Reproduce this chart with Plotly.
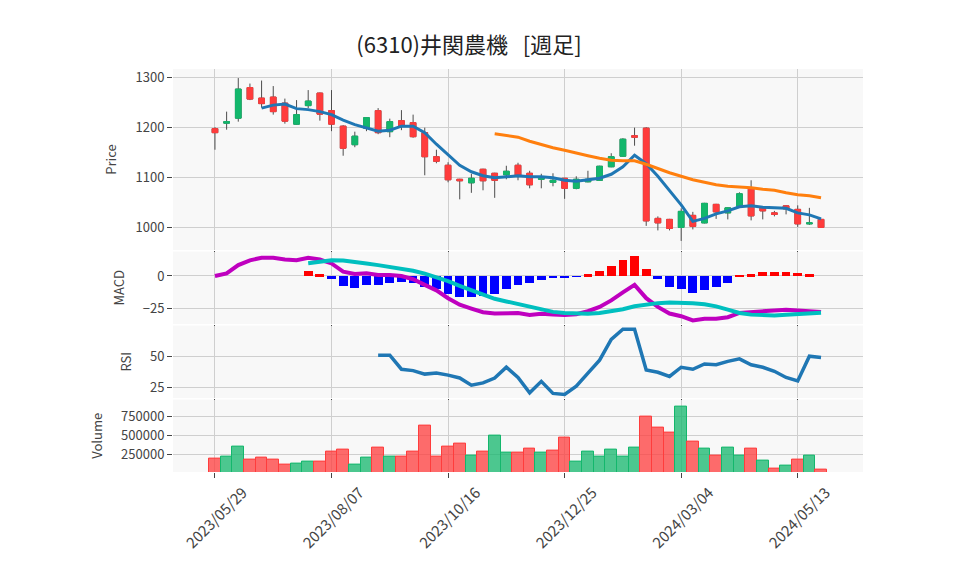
import plotly.graph_objects as go
from plotly.subplots import make_subplots

dates = [
    "2023/05/29", "2023/06/05", "2023/06/12", "2023/06/19", "2023/06/26",
    "2023/07/03", "2023/07/10", "2023/07/17", "2023/07/24", "2023/07/31",
    "2023/08/07", "2023/08/14", "2023/08/21", "2023/08/28", "2023/09/04",
    "2023/09/11", "2023/09/18", "2023/09/25", "2023/10/02", "2023/10/09",
    "2023/10/16", "2023/10/23", "2023/10/30", "2023/11/06", "2023/11/13",
    "2023/11/20", "2023/11/27", "2023/12/04", "2023/12/11", "2023/12/18",
    "2023/12/25", "2024/01/01", "2024/01/08", "2024/01/15", "2024/01/22",
    "2024/01/29", "2024/02/05", "2024/02/12", "2024/02/19", "2024/02/26",
    "2024/03/04", "2024/03/11", "2024/03/18", "2024/03/25", "2024/04/01",
    "2024/04/08", "2024/04/15", "2024/04/22", "2024/04/29", "2024/05/06",
    "2024/05/13", "2024/05/20", "2024/05/27",
]

opens = [1198, 1209, 1219, 1280, 1259, 1261, 1249, 1207, 1244, 1269,
         1234, 1203, 1166, 1199, 1234, 1192, 1214, 1210, 1190, 1142,
         1125, 1097, 1090, 1117, 1109, 1106, 1125, 1109, 1097, 1091,
         1099, 1079, 1092, 1095, 1122, 1143, 1184, 1199, 1019, 1017,
         1001, 1025, 1010, 1047, 1030, 1043, 1080, 1041, 1030, 1044,
         1037, 1008, 1017]
highs = [1201, 1232, 1299, 1288, 1294, 1283, 1258, 1255, 1275, 1270,
         1275, 1205, 1192, 1221, 1239, 1218, 1235, 1226, 1200, 1156,
         1131, 1098, 1108, 1118, 1110, 1124, 1130, 1114, 1108, 1109,
         1100, 1103, 1114, 1124, 1149, 1179, 1200, 1201, 1023, 1018,
         1039, 1032, 1050, 1048, 1041, 1071, 1095, 1042, 1034, 1045,
         1045, 1040, 1018]
lows = [1156, 1196, 1212, 1255, 1240, 1226, 1208, 1206, 1239, 1214,
        1193, 1144, 1161, 1193, 1187, 1181, 1195, 1180, 1105, 1129,
        1091, 1057, 1070, 1075, 1060, 1097, 1095, 1079, 1079, 1083,
        1058, 1077, 1091, 1094, 1121, 1142, 1164, 1004, 995, 995,
        974, 997, 1009, 1018, 1017, 1042, 1015, 1017, 1023, 1027,
        1002, 1006, 1000]
closes = [1190, 1212, 1277, 1257, 1248, 1232, 1213, 1226, 1253, 1227,
          1207, 1159, 1183, 1220, 1190, 1212, 1204, 1182, 1142, 1133,
          1096, 1094, 1099, 1094, 1095, 1113, 1104, 1086, 1101, 1095,
          1079, 1097, 1097, 1123, 1142, 1177, 1181, 1014, 1010, 999,
          1033, 1003, 1049, 1032, 1040, 1068, 1024, 1034, 1027, 1038,
          1008, 1010, 1001]
volumes = [197000, 223000, 352000, 184000, 210000, 184000, 119000, 132000, 158000, 158000,
           287000, 313000, 119000, 210000, 339000, 223000, 223000, 287000, 624000, 223000,
           352000, 391000, 236000, 287000, 495000, 278000, 278000, 330000, 278000, 304000,
           473000, 162000, 291000, 227000, 317000, 227000, 343000, 741000, 602000, 537000,
           874000, 421000, 330000, 240000, 343000, 240000, 330000, 175000, 71000, 110000,
           188000, 240000, 58000]

ma5 = [None] * 4 + [
    1239, 1245, 1247, 1238, 1236, 1232, 1226, 1215, 1206, 1200,
    1193, 1195, 1203, 1203, 1190, 1167, 1145, 1125, 1112, 1104,
    1100, 1102, 1104, 1102, 1102, 1100, 1095, 1093, 1096, 1099,
    1107, 1122, 1145, 1128, 1103, 1075, 1046, 1013, 1019, 1028,
    1034, 1042, 1044, 1041, 1040, 1039, 1030, 1026, 1018]
ma25 = [None] * 24 + [
    1188, 1185, 1181, 1173, 1166, 1160, 1155, 1149, 1144, 1139,
    1135, 1134, 1134, 1127, 1118, 1110, 1103, 1096, 1091, 1086,
    1083, 1082, 1080, 1077, 1075, 1070, 1066, 1064, 1060]

macd = [0, 2, 8.3, 12, 14, 14, 12.6, 12, 13.9, 12.6,
        9.6, 3.3, 1.5, 2, 0.8, 0.8, 0, -2.5, -6.8, -11,
        -17, -22, -25, -27.8, -28.8, -28.5, -28.3, -29.8, -29, -29.5,
        -29.8, -29.3, -27, -23.7, -18.7, -12.6, -6.8, -17, -23.7, -28.8,
        -30.8, -34, -32.8, -32.8, -31.6, -28.3, -27.8, -27.3, -27, -25.8,
        -26.5, -26.8, -27.5]
signal = [None] * 8 + [
    9.8, 11.0, 12.0, 11.8, 11.0, 9.6, 8.3, 7.0, 5.8, 4.0,
    1.8, -1.0, -4.0, -7.5, -11.0, -14.5, -17.5, -19.5, -21.5, -24.0,
    -26.0, -27.5, -28.3, -28.8, -29.0, -28.3, -27.2, -25.5, -23.2, -21.8,
    -20.8, -20.3, -20.3, -20.8, -21.6, -23.3, -25.8, -28.3, -29.6, -30.2,
    -30.2, -29.7, -29.2, -28.7, -28.2]
hist = [None] * 8 + [
    3.8, 1.5, -2, -7.3, -8.8, -6.6, -6.6, -5, -4.3, -5,
    -8.1, -9.8, -13.4, -15.7, -15.7, -15.2, -13.4, -9.7, -6.6, -5,
    -2.8, -1.3, -1.3, -0.3, 1.5, 3.8, 7.6, 12.9, 15.9, 5.3,
    -2, -8.1, -9.6, -12.6, -10.6, -8.1, -5, 1, 1.5, 3,
    3, 3.3, 2.3, 1.5, 0]

rsi = [None] * 14 + [
    50.8, 50.8, 39.6, 38.5, 35.7, 36.5, 34.9, 32.6, 26.8, 28.7,
    32.6, 41.3, 33.0, 20.8, 29.9, 20.3, 19.5, 26, 36.5, 46.9,
    63.5, 71.6, 71.6, 39, 37.2, 33.8, 41.2, 39.6, 43.8, 43.2,
    45.9, 47.9, 43.2, 41.2, 38, 33, 30.2, 50, 49]

UP = "rgb(19,183,108)"
DOWN = "rgb(255,60,60)"
WICK = "#4d4d4d"
FONT = "Noto Sans CJK JP"

fig = make_subplots(rows=4, cols=1, shared_xaxes=True, vertical_spacing=0.004,
                    row_heights=[0.5, 0.2, 0.2, 0.2])

# wicks (gray), then bodies on top without wicks
fig.add_trace(go.Candlestick(
    x=dates, open=opens, high=highs, low=lows, close=closes,
    increasing=dict(line=dict(color=WICK, width=1), fillcolor=UP),
    decreasing=dict(line=dict(color=WICK, width=1), fillcolor=DOWN),
    hoverinfo="skip"), row=1, col=1)
body_hi = [max(o, c) for o, c in zip(opens, closes)]
body_lo = [min(o, c) for o, c in zip(opens, closes)]
fig.add_trace(go.Candlestick(
    x=dates, open=opens, high=body_hi, low=body_lo, close=closes,
    increasing=dict(line=dict(color=UP, width=1), fillcolor=UP),
    decreasing=dict(line=dict(color=DOWN, width=1), fillcolor=DOWN)),
    row=1, col=1)
fig.add_trace(go.Scatter(x=dates, y=ma5, mode="lines",
                         line=dict(color="#1f77b4", width=3)), row=1, col=1)
fig.add_trace(go.Scatter(x=dates, y=ma25, mode="lines",
                         line=dict(color="#ff7f0e", width=3)), row=1, col=1)

hist_colors = ["red" if (h or 0) >= 0 else "blue" for h in hist]
fig.add_trace(go.Bar(x=dates, y=hist, marker_color=hist_colors,
                     marker_line_width=0, width=0.75), row=2, col=1)
fig.add_trace(go.Scatter(x=dates, y=macd, mode="lines",
                         line=dict(color="#bf00bf", width=4)), row=2, col=1)
fig.add_trace(go.Scatter(x=dates, y=signal, mode="lines",
                         line=dict(color="#00bfbf", width=4)), row=2, col=1)

fig.add_trace(go.Scatter(x=dates, y=rsi, mode="lines",
                         line=dict(color="#1f77b4", width=3.5)), row=3, col=1)

vol_up = [False] + [closes[i] >= closes[i - 1] for i in range(1, len(closes))]
vol_fill = ["rgba(19,183,108,0.75)" if u else "rgba(255,60,60,0.75)" for u in vol_up]
vol_line = [UP if u else DOWN for u in vol_up]
fig.add_trace(go.Bar(x=dates, y=volumes,
                     marker=dict(color=vol_fill, line=dict(color=vol_line, width=1)),
                     width=1.0), row=4, col=1)

# page body has an 8px margin, so margins are trimmed by 8 on the left/top
fig.update_layout(
    width=958, height=575,
    title=dict(text="(6310)井関農機 \u00a0 [週足]", x=461 / 958, xanchor="center",
               y=0.936, yanchor="middle", font=dict(size=22, color="#222")),
    font=dict(family=FONT, size=13, color="#444"),
    showlegend=False,
    paper_bgcolor="white", plot_bgcolor="#f8f8f8",
    margin=dict(l=165, r=103, t=61, b=111),
    bargap=0,
)
fig.update_xaxes(type="category", range=[-3.6, 55.6], tickvals=dates[::10],
                 showgrid=True, gridcolor="#cfcfcf", ticks="outside", ticklen=5,
                 tickcolor="#444", rangeslider_visible=False, tickangle=-45,
                 tickfont=dict(size=15), ticklabelshift=28, automargin=False)
fig.update_yaxes(showgrid=True, gridcolor="#cfcfcf", zeroline=False,
                 ticks="outside", ticklen=5, tickcolor="#444",
                 title_font=dict(size=13))
fig.update_yaxes(title_text="Price", dtick=100, row=1, col=1)
fig.update_yaxes(title_text="MACD", dtick=25, row=2, col=1)
fig.update_yaxes(title_text="RSI", dtick=25, row=3, col=1)
fig.update_yaxes(title_text="Volume", dtick=250000, tickformat="d",
                 range=[24000, 963000], row=4, col=1)

fig.write_html("out.html")
